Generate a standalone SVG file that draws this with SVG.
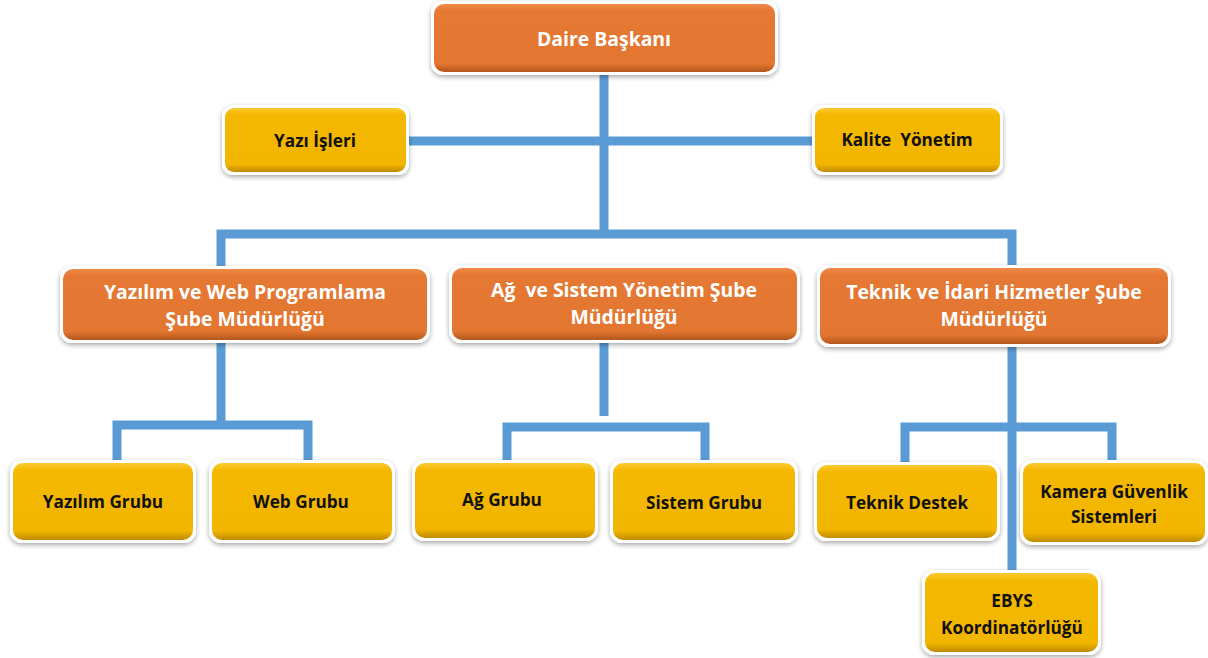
<svg xmlns="http://www.w3.org/2000/svg" width="1208" height="658" viewBox="0 0 1208 658">
<style>
.frame{fill:#ffffff;filter:url(#sh)}
.or{fill:url(#gOr)}
.ye{fill:url(#gYe)}
.t{font-family:"Open Sans",Lato,"Liberation Sans",sans-serif;font-weight:bold;text-anchor:middle;white-space:pre}
.tw{fill:#ffffff;font-size:19.4px}
.tb{fill:#111111;font-size:17.2px}
.c{fill:none;stroke:#5B9BD5;stroke-width:9;stroke-linejoin:miter}
</style>
<defs>
<filter id="sh" x="-10%" y="-20%" width="120%" height="150%">
<feGaussianBlur in="SourceAlpha" stdDeviation="2.5"/>
<feOffset dx="0" dy="2" result="b"/>
<feComponentTransfer><feFuncA type="linear" slope="0.35"/></feComponentTransfer>
<feMerge><feMergeNode/><feMergeNode in="SourceGraphic"/></feMerge>
</filter>
<linearGradient id="gOr" x1="0" y1="0" x2="0" y2="1">
<stop offset="0" stop-color="#EC8A48"/>
<stop offset="0.1" stop-color="#E57832"/>
<stop offset="0.88" stop-color="#E37630"/>
<stop offset="1" stop-color="#B2561C"/>
</linearGradient>
<linearGradient id="gYe" x1="0" y1="0" x2="0" y2="1">
<stop offset="0" stop-color="#FBC933"/>
<stop offset="0.1" stop-color="#F5B800"/>
<stop offset="0.88" stop-color="#F3B600"/>
<stop offset="1" stop-color="#C08A00"/>
</linearGradient>
</defs>
<rect width="1208" height="658" fill="#ffffff"/>
<g id="connectors">
<path class="c" d="M604,72 V237"/>
<path class="c" d="M406,141 H815"/>
<path class="c" d="M221,269 V234 H1012 V268"/>
<path class="c" d="M221,340 V425"/>
<path class="c" d="M117,463 V425 H308 V463"/>
<path class="c" d="M604,340 V416"/>
<path class="c" d="M507,463 V427 H705 V463"/>
<path class="c" d="M1012,344 V573"/>
<path class="c" d="M905,465 V427 H1112 V463"/>
</g>
<g id="n-daire">
<rect class="frame" x="431" y="1" width="347" height="74" rx="12"/>
<rect class="or" x="434" y="4" width="341" height="68" rx="10"/>
<text class="t tw" x="604" y="46">Daire Başkanı</text>
</g>
<g id="n-yazi">
<rect class="frame" x="222" y="105" width="187" height="70" rx="11"/>
<rect class="ye" x="225" y="108" width="181" height="64" rx="9"/>
<text class="t tb" x="315" y="147">Yazı İşleri</text>
</g>
<g id="n-kalite">
<rect class="frame" x="812" y="105" width="191" height="70" rx="11"/>
<rect class="ye" x="815" y="108" width="185" height="64" rx="9"/>
<text class="t tb" x="907" y="146">Kalite  Yönetim</text>
</g>
<g id="n-yazilim-sube">
<rect class="frame" x="60" y="266" width="370" height="77" rx="12"/>
<rect class="or" x="63" y="269" width="364" height="71" rx="10"/>
<text class="t tw" x="245" y="299">Yazılım ve Web Programlama</text>
<text class="t tw" x="245" y="326">Şube Müdürlüğü</text>
</g>
<g id="n-ag-sube">
<rect class="frame" x="449" y="265" width="351" height="78" rx="12"/>
<rect class="or" x="452" y="268" width="345" height="72" rx="10"/>
<text class="t tw" x="624" y="297">Ağ  ve Sistem Yönetim Şube</text>
<text class="t tw" x="624" y="324">Müdürlüğü</text>
</g>
<g id="n-teknik-sube">
<rect class="frame" x="817" y="265" width="354" height="82" rx="12"/>
<rect class="or" x="820" y="268" width="348" height="76" rx="10"/>
<text class="t tw" x="994" y="299">Teknik ve İdari Hizmetler Şube</text>
<text class="t tw" x="994" y="326">Müdürlüğü</text>
</g>
<g id="n-yazilim-grubu">
<rect class="frame" x="10" y="460" width="186" height="83" rx="12"/>
<rect class="ye" x="13" y="463" width="180" height="77" rx="10"/>
<text class="t tb" x="103" y="508">Yazılım Grubu</text>
</g>
<g id="n-web-grubu">
<rect class="frame" x="209" y="460" width="186" height="83" rx="12"/>
<rect class="ye" x="212" y="463" width="180" height="77" rx="10"/>
<text class="t tb" x="301" y="508">Web Grubu</text>
</g>
<g id="n-ag-grubu">
<rect class="frame" x="412" y="460" width="186" height="81" rx="12"/>
<rect class="ye" x="415" y="463" width="180" height="75" rx="10"/>
<text class="t tb" x="502" y="506">Ağ Grubu</text>
</g>
<g id="n-sistem-grubu">
<rect class="frame" x="610" y="460" width="188" height="83" rx="12"/>
<rect class="ye" x="613" y="463" width="182" height="77" rx="10"/>
<text class="t tb" x="704" y="509">Sistem Grubu</text>
</g>
<g id="n-teknik-destek">
<rect class="frame" x="814" y="462" width="186" height="79" rx="12"/>
<rect class="ye" x="817" y="465" width="180" height="73" rx="10"/>
<text class="t tb" x="907" y="509">Teknik Destek</text>
</g>
<g id="n-kamera">
<rect class="frame" x="1020" y="460" width="188" height="85" rx="12"/>
<rect class="ye" x="1023" y="463" width="182" height="79" rx="10"/>
<text class="t tb" x="1114" y="498">Kamera Güvenlik</text>
<text class="t tb" x="1114" y="523">Sistemleri</text>
</g>
<g id="n-ebys">
<rect class="frame" x="922" y="570" width="179" height="85" rx="12"/>
<rect class="ye" x="925" y="573" width="173" height="79" rx="10"/>
<text class="t tb" x="1012" y="607">EBYS</text>
<text class="t tb" x="1012" y="634">Koordinatörlüğü</text>
</g>
</svg>
